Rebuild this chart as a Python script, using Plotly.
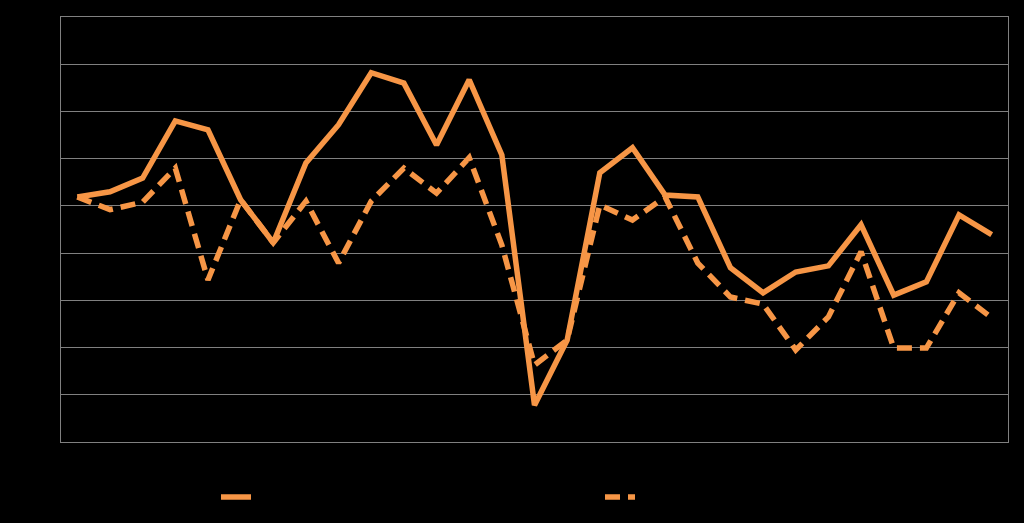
import plotly.graph_objects as go

categories = list(range(1, 30))
series_solid = [5.19, 5.30, 5.59, 6.80, 6.61, 5.13, 4.22, 5.91, 6.72, 7.82,
                7.60, 6.29, 7.67, 6.08, 0.78, 2.16, 5.70, 6.23, 5.23, 5.19,
                3.69, 3.16, 3.60, 3.73, 4.60, 3.11, 3.39, 4.81, 4.39]
series_dashed = [5.19, 4.92, 5.08, 5.80, 3.43, 5.13, 4.22, 5.10, 3.79, 5.10,
                 5.80, 5.27, 6.02, 4.17, 1.63, 2.16, 5.02, 4.70, 5.19, 3.79,
                 3.07, 2.92, 1.95, 2.65, 4.03, 1.99, 1.99, 3.16, 2.63]

orange = "#F79646"

fig = go.Figure()
fig.add_trace(go.Scatter(x=categories, y=series_solid, mode="lines",
                         name="Series 1", line=dict(color=orange, width=5.5)))
fig.add_trace(go.Scatter(x=categories, y=series_dashed, mode="lines",
                         name="Series 2",
                         line=dict(color=orange, width=5.5, dash="15px,8px")))

fig.update_layout(
    width=1024, height=523,
    paper_bgcolor="black", plot_bgcolor="black",
    margin=dict(l=61, r=16, t=17, b=81),
    showlegend=True,
    legend=dict(orientation="h", x=(216 - 61) / 947, xanchor="left",
                y=-55 / 425, yanchor="middle",
                font=dict(color="black", size=12),
                entrywidth=339, entrywidthmode="pixels",
                bgcolor="rgba(0,0,0,0)"),
    xaxis=dict(range=[0.5, 29.5], showgrid=False, showticklabels=False,
               showline=True, linecolor="#808080", linewidth=1, mirror=True,
               zeroline=False, ticks=""),
    yaxis=dict(range=[0, 9], dtick=1, showgrid=True, gridcolor="#808080",
               gridwidth=1, showticklabels=False, showline=True,
               linecolor="#808080", linewidth=1, mirror=True,
               zeroline=False, ticks=""),
)

fig.write_html(
    "out.html",
    config={"displayModeBar": False},
    post_script="document.body.style.margin='0';document.body.style.background='black';",
)
